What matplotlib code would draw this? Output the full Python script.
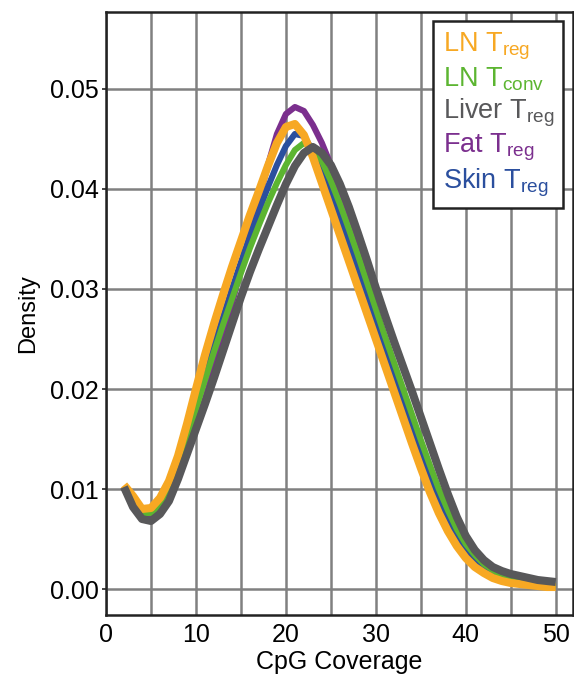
#! /usr/bin/env python3
# CpG coverage density per T cell population

import numpy as np
import matplotlib
matplotlib.use("Agg")
import matplotlib.pyplot as plt

plt.rcParams['font.family'] = ['Liberation Sans', 'DejaVu Sans']
plt.rcParams['mathtext.fontset'] = 'custom'
plt.rcParams['mathtext.rm'] = 'Liberation Sans'

coverage = list(range(2, 51))

ln_treg = [0.0104, 0.0093, 0.0080, 0.0081, 0.0091, 0.0108, 0.0133, 0.0165, 0.0200,
           0.0234, 0.0265, 0.0294, 0.0322, 0.0348, 0.0374, 0.0398, 0.0423, 0.0446,
           0.0462, 0.0465, 0.0454, 0.0432, 0.0406, 0.0380, 0.0354, 0.0328, 0.0302,
           0.0276, 0.0250, 0.0224, 0.0198, 0.0172, 0.0146, 0.0121, 0.0097, 0.0076,
           0.0058, 0.0043, 0.0031, 0.0022, 0.0016, 0.0011, 0.0008, 0.0006, 0.0005,
           0.0004, 0.0003, 0.0002, 0.0002]

ln_tconv = [0.0101, 0.0088, 0.0076, 0.0076, 0.0085, 0.0101, 0.0124, 0.0151, 0.0180,
            0.0209, 0.0237, 0.0264, 0.0290, 0.0316, 0.0341, 0.0364, 0.0386, 0.0406,
            0.0424, 0.0439, 0.0446, 0.0442, 0.0428, 0.0408, 0.0385, 0.0360, 0.0334,
            0.0307, 0.0280, 0.0253, 0.0227, 0.0201, 0.0175, 0.0149, 0.0124, 0.0100,
            0.0079, 0.0060, 0.0045, 0.0034, 0.0025, 0.0019, 0.0014, 0.0011, 0.0008,
            0.0006, 0.0005, 0.0004, 0.0003]

liver_treg = [0.0102, 0.0082, 0.0070, 0.0068, 0.0075, 0.0088, 0.0110, 0.0135, 0.0160,
              0.0185, 0.0211, 0.0238, 0.0265, 0.0292, 0.0317, 0.0340, 0.0362, 0.0384,
              0.0405, 0.0423, 0.0436, 0.0442, 0.0436, 0.0424, 0.0405, 0.0382, 0.0356,
              0.0329, 0.0301, 0.0274, 0.0248, 0.0223, 0.0198, 0.0172, 0.0146, 0.0120,
              0.0095, 0.0072, 0.0053, 0.0039, 0.0029, 0.0022, 0.0018, 0.0015, 0.0013,
              0.0011, 0.0009, 0.0008, 0.0007]

fat_treg = [0.0101, 0.0085, 0.0071, 0.0070, 0.0079, 0.0095, 0.0115, 0.0138, 0.0163,
            0.0190, 0.0220, 0.0252, 0.0285, 0.0320, 0.0355, 0.0390, 0.0424, 0.0455,
            0.0475, 0.0482, 0.0478, 0.0464, 0.0446, 0.0424, 0.0398, 0.0369, 0.0339,
            0.0308, 0.0279, 0.0250, 0.0224, 0.0198, 0.0172, 0.0146, 0.0120, 0.0095,
            0.0073, 0.0054, 0.0039, 0.0028, 0.0021, 0.0015, 0.0011, 0.0008, 0.0006,
            0.0005, 0.0004, 0.0003, 0.0003]

skin_treg = [0.0101, 0.0088, 0.0076, 0.0077, 0.0086, 0.0102, 0.0125, 0.0153, 0.0183,
             0.0213, 0.0243, 0.0272, 0.0300, 0.0327, 0.0353, 0.0378, 0.0402, 0.0424,
             0.0443, 0.0455, 0.0453, 0.0438, 0.0417, 0.0394, 0.0370, 0.0345, 0.0319,
             0.0292, 0.0266, 0.0240, 0.0214, 0.0188, 0.0162, 0.0136, 0.0111, 0.0088,
             0.0067, 0.0050, 0.0037, 0.0027, 0.0020, 0.0015, 0.0011, 0.0008, 0.0006,
             0.0005, 0.0004, 0.0003, 0.0002]

labels = ["LN T$_{\\mathrm{reg}}$", "LN T$_{\\mathrm{conv}}$", "Liver T$_{\\mathrm{reg}}$",
          "Fat T$_{\\mathrm{reg}}$", "Skin T$_{\\mathrm{reg}}$"]
colors = ["#F7A823", "#5CB531", "#58585A", "#7B2F8E", "#2B4F9E"]
series = [ln_treg, ln_tconv, liver_treg, fat_treg, skin_treg]
widths = [5.8, 4.4, 5.8, 4.4, 4.4]
zorders = [5, 4, 6, 2, 3]

fig = plt.figure(figsize=(5.74, 6.81), dpi=100)
ax = fig.add_axes([0.1847, 0.0969, 0.8133, 0.8855])

for y, c, lw, z, lab in zip(series, colors, widths, zorders, labels):
    ax.plot(coverage, y, color=c, linewidth=lw, zorder=z, label=lab,
            solid_capstyle='butt', solid_joinstyle='round')

ax.set_xlim(0, 51.9)
ax.set_ylim(-0.0026, 0.0577)
ax.set_xticks(np.arange(0, 51, 10))
ax.set_xticks(np.arange(5, 51, 10), minor=True)
ax.set_yticks(np.arange(0, 0.051, 0.01))
ax.yaxis.set_major_formatter(matplotlib.ticker.FormatStrFormatter('%.2f'))
ax.grid(True, which='both', color='#808080', linewidth=1.8, zorder=0)
ax.set_axisbelow(True)
ax.tick_params(axis='both', labelsize=18, color='#222222')
ax.tick_params(axis='x', which='both', length=0, pad=6)
ax.tick_params(axis='y', length=3, width=1.2, pad=2)
for s in ax.spines.values():
    s.set_linewidth(1.8)
    s.set_color('#222222')

ax.set_xlabel("CpG Coverage", fontsize=18, labelpad=2)
ax.set_ylabel("Density", fontsize=17, labelpad=8)

leg = ax.legend(loc='upper right', fontsize=19.5, handlelength=0, handletextpad=0,
                fancybox=False, framealpha=1, edgecolor='#222222',
                borderaxespad=0.35, labelspacing=0.12, borderpad=0.35)
leg.get_frame().set_linewidth(1.8)
for h in leg.legend_handles:
    h.set_visible(False)
for t, c in zip(leg.get_texts(), colors):
    t.set_color(c)
leg.set_zorder(10)

fig.savefig("out.png", dpi=100)
